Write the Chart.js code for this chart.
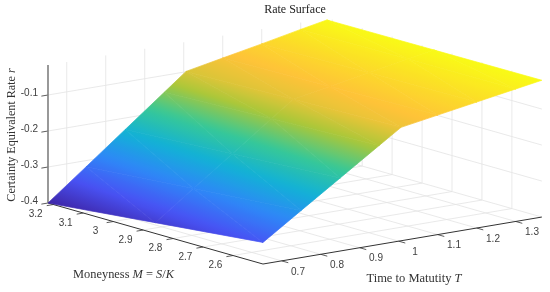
<!DOCTYPE html>
<html>
<head>
<meta charset="utf-8">
<title>Rate Surface</title>
<script src="https://cdn.jsdelivr.net/npm/chart.js@4"></script>
<style>html,body{margin:0;padding:0;background:#fff}canvas{display:block}</style>
</head>
<body>
<canvas id="chart-rate" width="550" height="292"></canvas>
<script>
// ── Rate surface values ───────────────────────────────────────
const maturities=[0.652,0.75,0.85,0.95,1.006,1.1,1.2,1.3,1.367];
const moneyness=[3.218,2.86,2.5];
const ratesHighM=[-0.4,-0.317,-0.232,-0.147,-0.099,-0.079,-0.058,-0.036,-0.022];
const ratesMidM=[-0.37,-0.293,-0.2145,-0.136,-0.092,-0.0735,-0.054,-0.034,-0.021];
const ratesLowM=[-0.34,-0.269,-0.197,-0.125,-0.085,-0.068,-0.05,-0.032,-0.02];
const rateRows=[ratesHighM,ratesMidM,ratesLowM];

const tTicks=[0.7,0.8,0.9,1,1.1,1.2,1.3];
const mTicks=[3.2,3.1,3,2.9,2.8,2.7,2.6];
const zTicks=[-0.1,-0.2,-0.3,-0.4];

// ── Axes box and colour limits ────────────────────────────────
const tMin=0.652,tMax=1.367,mMin=2.5,mMax=3.218,zMin=-0.4,zMax=-0.017;
const cMin=-0.4,cMax=-0.02;
const parula=[[62,38,168],[72,82,244],[46,135,247],[18,177,214],[55,200,151],[171,199,57],[254,195,56],[249,251,21]];

// Oblique view: fixed camera, world -> view units
function view(T,M,r){
  const dT=T-tMin,dM=mMax-M,dZ=r-zMin;
  return {x:48+dT*390+dM*299.4,y:203-dT*65.7+dM*85-dZ*360};
}

function colorAt(r){
  const t=Math.min(1,Math.max(0,(r-cMin)/(cMax-cMin)))*(parula.length-1);
  const i=Math.min(parula.length-2,Math.floor(t)),f=t-i;
  const c=parula[i].map((v,k)=>Math.round(v+(parula[i+1][k]-v)*f));
  return `rgb(${c[0]},${c[1]},${c[2]})`;
}

// Linear gradient that shades one triangle exactly by its three rates
function triGradient(chart,tri){
  const sx=chart.scales.x,sy=chart.scales.y;
  const p=tri.map(n=>{const v=view(n.T,n.M,n.r);return {x:sx.getPixelForValue(v.x),y:sy.getPixelForValue(v.y),r:n.r};});
  const ax=p[1].x-p[0].x,ay=p[1].y-p[0].y,bx=p[2].x-p[0].x,by=p[2].y-p[0].y;
  const dr1=p[1].r-p[0].r,dr2=p[2].r-p[0].r,det=ax*by-ay*bx;
  const gx=(dr1*by-dr2*ay)/det,gy=(ax*dr2-bx*dr1)/det,g2=gx*gx+gy*gy;
  const lo=p.reduce((a,b)=>b.r<a.r?b:a),hi=Math.max(p[0].r,p[1].r,p[2].r);
  if(!(g2>0)||hi-lo.r<1e-6) return colorAt(lo.r);
  const d=hi-lo.r;
  const grad=chart.ctx.createLinearGradient(lo.x,lo.y,lo.x+gx*d/g2,lo.y+gy*d/g2);
  for(let k=0;k<=8;k++) grad.addColorStop(k/8,colorAt(lo.r+d*k/8));
  return grad;
}

// ── Datasets ──────────────────────────────────────────────────
const datasets=[];
function addTri(a,b,c){
  const tri=[a,b,c];
  const shade=ctx=>ctx.type==='dataset'?triGradient(ctx.chart,tri):'transparent';
  datasets.push({data:[a,b,c,a].map(n=>view(n.T,n.M,n.r)),showLine:true,fill:'shape',tension:0,pointRadius:0,
    backgroundColor:shade,borderColor:shade,borderWidth:0.7,clip:false});
}
function addLine(a,b,color,width){
  datasets.push({data:[a,b],showLine:true,fill:false,tension:0,pointRadius:0,borderColor:color,borderWidth:width,clip:false});
}

// surface goes first so it paints over the grid
for(let i=0;i<moneyness.length-1;i++){
  for(let j=0;j<maturities.length-1;j++){
    const n=(a,b)=>({T:maturities[b],M:moneyness[a],r:rateRows[a][b]});
    addTri(n(i,j),n(i,j+1),n(i+1,j));
    addTri(n(i,j+1),n(i+1,j+1),n(i+1,j));
  }
}

const AXIS='#333333',GRID='#e3e3e3';
// axis lines and tick marks
addLine(view(tMin,mMax,zMin),view(tMin,mMin,zMin),AXIS,1);
addLine(view(tMin,mMin,zMin),view(tMax,mMin,zMin),AXIS,1);
addLine(view(tMin,mMax,zMin),view(tMin,mMax,zMax),'#7f7f7f',1.6);
mTicks.forEach(M=>addLine(view(tMin,M,zMin),view(tMin-0.017,M,zMin),AXIS,0.8));
tTicks.forEach(T=>addLine(view(T,mMin,zMin),view(T,mMin-0.022,zMin),AXIS,0.8));
zTicks.forEach(z=>addLine(view(tMin,mMax,z),view(tMin-0.017,mMax,z),AXIS,0.8));
// grid on floor and the two back walls
mTicks.forEach(M=>{
  addLine(view(tMin,M,zMin),view(tMax,M,zMin),GRID,0.8);
  addLine(view(tMax,M,zMin),view(tMax,M,zMax),GRID,0.8);
});
tTicks.forEach(T=>{
  addLine(view(T,mMin,zMin),view(T,mMax,zMin),GRID,0.8);
  addLine(view(T,mMax,zMin),view(T,mMax,zMax),GRID,0.8);
});
zTicks.forEach(z=>{
  addLine(view(tMin,mMax,z),view(tMax,mMax,z),GRID,0.8);
  addLine(view(tMax,mMax,z),view(tMax,mMin,z),GRID,0.8);
});

// ── Tick labels and axis titles, placed at projected positions ─
const SERIF='"Liberation Serif",serif',SANS='"Liberation Sans",Arial,sans-serif';
function drawRuns(ctx,runs,size){
  let w=0;
  runs.forEach(r=>{ctx.font=(r[1]?'italic ':'')+size+'px '+SERIF;w+=ctx.measureText(r[0]).width;});
  let x=-w/2;
  ctx.textAlign='left';ctx.textBaseline='middle';
  runs.forEach(r=>{
    ctx.font=(r[1]?'italic ':'')+size+'px '+SERIF;
    ctx.fillText(r[0],x,0);
    x+=ctx.measureText(r[0]).width;
  });
}
const labelsPlugin={
  id:'surfaceLabels',
  afterDraw(chart){
    const ctx=chart.ctx,sx=chart.scales.x,sy=chart.scales.y;
    const at=v=>({x:sx.getPixelForValue(v.x),y:sy.getPixelForValue(v.y)});
    ctx.save();
    ctx.fillStyle='#404040';
    ctx.font='10px '+SANS;
    ctx.textAlign='center';ctx.textBaseline='middle';
    mTicks.forEach(M=>{const p=at(view(tMin,M,zMin));ctx.fillText(String(M),p.x-17.7,p.y+9.8);});
    tTicks.forEach(T=>{const p=at(view(T,mMin,zMin));ctx.fillText(String(T),p.x+16.3,p.y+11);});
    ctx.textAlign='right';
    zTicks.forEach(z=>{const p=at(view(tMin,mMax,z));ctx.fillText(z.toFixed(1),p.x-10,p.y-2);});
    ctx.fillStyle='#333333';
    ctx.save();ctx.translate(123.5,275);drawRuns(ctx,[['Moneyness ',0],['M',1],[' = ',0],['S',1],['/',0],['K',1]],12.4);ctx.restore();
    ctx.save();ctx.translate(414,279);drawRuns(ctx,[['Time to Matutity ',0],['T',1]],12.5);ctx.restore();
    ctx.save();ctx.translate(12,135);ctx.rotate(-Math.PI/2);drawRuns(ctx,[['Certainty Equivalent Rate ',0],['r',1]],12.1);ctx.restore();
    ctx.restore();
  }
};

new Chart(document.getElementById('chart-rate'),{
  type:'scatter',
  data:{datasets},
  plugins:[labelsPlugin],
  options:{
    responsive:false,animation:false,
    layout:{padding:{left:40}},
    plugins:{
      legend:{display:false},tooltip:{enabled:false},
      title:{display:true,text:'Rate Surface',color:'#222222',align:'center',
        font:{family:SERIF,size:12,weight:'normal',lineHeight:1.25},padding:{top:2,bottom:0}}
    },
    scales:{
      x:{type:'linear',display:false,min:40,max:550},
      y:{type:'linear',display:false,min:17,max:292,reverse:true}
    }
  }
});
</script>
</body>
</html>
